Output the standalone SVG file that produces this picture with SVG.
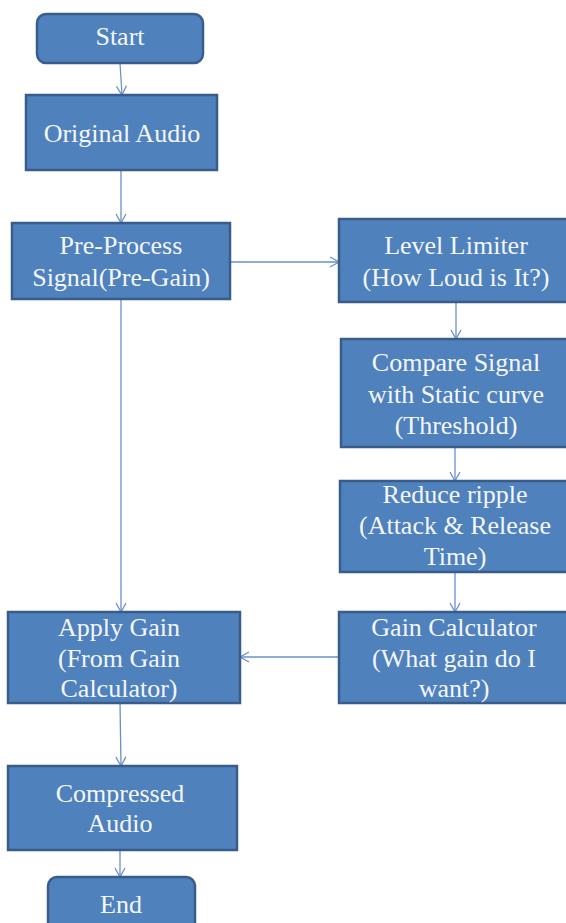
<svg xmlns="http://www.w3.org/2000/svg" width="566" height="923" viewBox="0 0 566 923">
<style>
.box{fill:#4f81bd;stroke:#385d8a;stroke-width:2.5}
.t{font-family:"Liberation Serif","Times New Roman",serif;font-size:26px;fill:#f4f6fb;text-anchor:middle}
.c{stroke:#6a90c8;stroke-width:1.3;fill:none;marker-end:url(#a)}
</style>
<defs>
<marker id="a" viewBox="0 0 10 12" refX="10" refY="6" markerWidth="10" markerHeight="12" markerUnits="userSpaceOnUse" orient="auto">
<path d="M1,1 L10,6 L1,11" fill="none" stroke="#6a90c8" stroke-width="1.3"/>
</marker>
</defs>
<rect width="566" height="923" fill="#ffffff"/>
<g id="connectors">
<line class="c" x1="120" y1="63" x2="122" y2="95"/>
<line class="c" x1="121" y1="170" x2="121" y2="223"/>
<line class="c" x1="230" y1="262" x2="339" y2="262"/>
<line class="c" x1="456" y1="302" x2="456" y2="339"/>
<line class="c" x1="455" y1="447" x2="455" y2="481"/>
<line class="c" x1="455" y1="572" x2="455" y2="612"/>
<line class="c" x1="339" y1="657" x2="240" y2="657"/>
<line class="c" x1="121" y1="299" x2="121" y2="612"/>
<line class="c" x1="120" y1="703" x2="121" y2="766"/>
<line class="c" x1="120" y1="850" x2="120" y2="877"/>
</g>
<g id="start">
<rect class="box" x="37" y="14" width="166" height="49" rx="9"/>
<text class="t" x="120" y="45">Start</text>
</g>
<g id="original-audio">
<rect class="box" x="26" y="95" width="191" height="75"/>
<text class="t" x="122" y="142">Original Audio</text>
</g>
<g id="pre-process">
<rect class="box" x="12" y="223" width="218" height="76"/>
<text class="t" x="121" y="254">Pre-Process</text>
<text class="t" x="121" y="286">Signal(Pre-Gain)</text>
</g>
<g id="level-limiter">
<rect class="box" x="339" y="219" width="240" height="83"/>
<text class="t" x="456" y="254">Level Limiter</text>
<text class="t" x="456" y="286">(How Loud is It?)</text>
</g>
<g id="compare-signal">
<rect class="box" x="341" y="339" width="238" height="108"/>
<text class="t" x="456" y="371">Compare Signal</text>
<text class="t" x="456" y="403">with Static curve</text>
<text class="t" x="456" y="434">(Threshold)</text>
</g>
<g id="reduce-ripple">
<rect class="box" x="340" y="481" width="239" height="91"/>
<text class="t" x="455" y="503">Reduce ripple</text>
<text class="t" x="455" y="534">(Attack &amp; Release</text>
<text class="t" x="455" y="565">Time)</text>
</g>
<g id="gain-calculator">
<rect class="box" x="339" y="612" width="240" height="91"/>
<text class="t" x="454" y="636">Gain Calculator</text>
<text class="t" x="454" y="667">(What gain do I</text>
<text class="t" x="454" y="697">want?)</text>
</g>
<g id="apply-gain">
<rect class="box" x="8" y="612" width="232" height="91"/>
<text class="t" x="119" y="636">Apply Gain</text>
<text class="t" x="119" y="667">(From Gain</text>
<text class="t" x="119" y="697">Calculator)</text>
</g>
<g id="compressed-audio">
<rect class="box" x="8" y="766" width="229" height="84"/>
<text class="t" x="120" y="802">Compressed</text>
<text class="t" x="120" y="832">Audio</text>
</g>
<g id="end">
<rect class="box" x="48" y="877" width="147" height="60" rx="9"/>
<text class="t" x="121" y="913">End</text>
</g>
</svg>
